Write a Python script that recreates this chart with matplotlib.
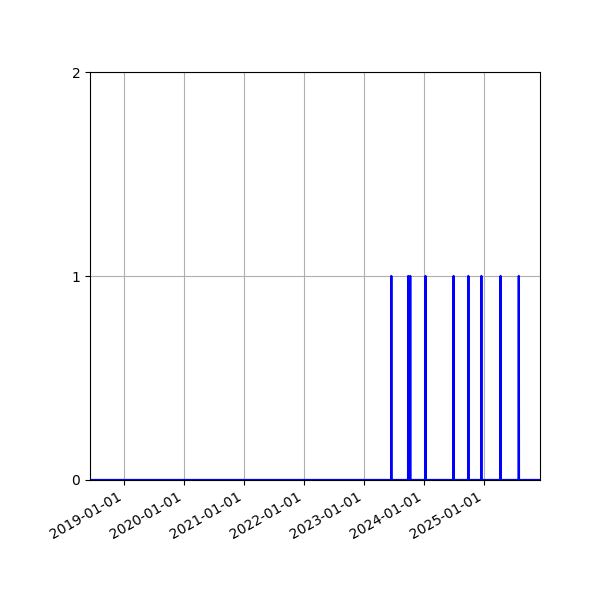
import pandas as pd
import matplotlib
matplotlib.use("Agg")
import matplotlib.pyplot as plt
import matplotlib.dates as mdates

# daily series range
start_date = "2018-06-08"
end_date = "2025-12-07"

# days with one event
event_dates = [
    "2023-06-16", "2023-09-27", "2023-10-09", "2024-01-10",
    "2024-06-29", "2024-09-27", "2024-12-15", "2025-04-11",
    "2025-07-31",
]
event_counts = [1, 1, 1, 1, 1, 1, 1, 1, 1]

days = pd.date_range(start_date, end_date, freq="D")
counts = pd.Series(event_counts, index=pd.to_datetime(event_dates)).reindex(days, fill_value=0)

fig, ax = plt.subplots(figsize=(6, 6), dpi=100)
ax.plot(counts.index, counts.values, color="blue", linewidth=1.6)

ax.set_xlim(days[0], days[-1])
ax.set_ylim(0, 2)
ax.set_yticks([0, 1, 2])
ax.xaxis.set_major_locator(mdates.YearLocator())
ax.xaxis.set_major_formatter(mdates.DateFormatter("%Y-%m-%d"))
ax.grid(True)
fig.autofmt_xdate()
fig.subplots_adjust(left=0.15, right=0.9, top=0.88, bottom=0.2)

fig.savefig("out.png")
